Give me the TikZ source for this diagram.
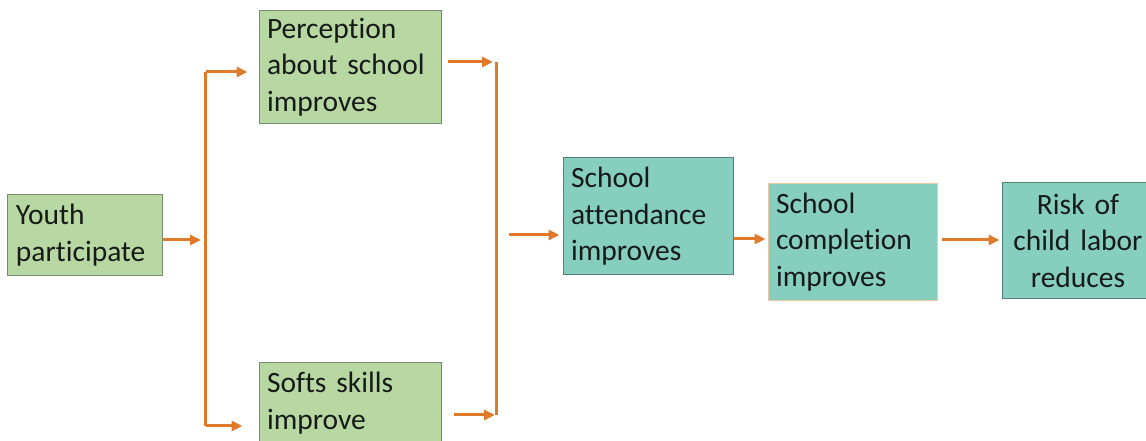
\documentclass[tikz,border=0pt]{standalone}
\usepackage{fontspec}
\setmainfont{Carlito}[Ligatures=NoCommon, WordSpace=0.7]
\usetikzlibrary{arrows.meta}
\definecolor{gfill}{RGB}{183,216,163}
\definecolor{gline}{RGB}{120,140,112}
\definecolor{tfill}{RGB}{134,206,190}
\definecolor{tline}{RGB}{82,128,118}
\definecolor{pline}{RGB}{238,200,162}
\definecolor{arr}{RGB}{224,122,42}
\definecolor{txt}{RGB}{22,26,24}
% box text: fixed interword spaces so broken lines are not stretched
\newcommand{\boxfont}{\fontsize{29.5bp}{36.5bp}\selectfont\fontdimen3\font=0pt\relax}
\begin{document}
\begin{tikzpicture}[x=1bp,y=-1bp,
  box/.style={draw, line width=1bp, inner xsep=8bp, inner ysep=0pt,
    font=\boxfont, text=txt},
  gbox/.style={box, fill=gfill, draw=gline},
  tbox/.style={box, fill=tfill, draw=tline},
  flow/.style={draw=arr, line width=3bp, -{Triangle[length=11bp,width=10bp]}},
  rail/.style={draw=arr, line width=3bp}]
\useasboundingbox (0,0) rectangle (1146,441);
\clip (0,0) rectangle (1146,441);

% boxes
\node[gbox, align=left, text width=138bp, minimum height=81bp] (youth) at (85,235)
  {Youth\\participate};
\node[gbox, align=left, text width=166bp, minimum height=113bp] (percep) at (350,67)
  {Perception\\about school\\improves};
\node[gbox, align=left, text width=166bp, minimum height=80bp] (softs) at (350,403)
  {Softs skills\\improve};
\node[tbox, align=left, text width=154bp, minimum height=117bp] (attend) at (648,216.5)
  {School\\attendance\\improves};
\node[tbox, draw=pline, align=left, text width=153bp, minimum height=117bp] (compl) at (852.5,242)
  {School\\completion\\improves};
\node[tbox, align=center, text width=136bp, minimum height=116bp] (risk) at (1078,240.5)
  {Risk of\\child labor\\reduces};

% junction points of the two rails
\coordinate (ltop) at (205.5,72);
\coordinate (lbot) at (205.5,426);
\coordinate (ljoin) at (201,240);
\coordinate (rtop) at (496,62);
\coordinate (rbot) at (496,415);
\coordinate (rmid) at (496,235);
\coordinate (acy) at (750,239);
\coordinate (cry) at (970,240);

% left rail: youth splits into two branches
\draw[rail] (ltop) -- (lbot);
\draw[flow] (youth.east |- ljoin) -- (ljoin);
\draw[flow, shorten >=11bp] (ltop) -- (ltop -| percep.west);
\draw[flow, shorten >=16bp] (lbot) -- (lbot -| softs.west);

% right rail: both branches merge
\draw[rail] (rtop) -- (rbot);
\draw[flow, shorten <=6bp, shorten >=3bp] (rtop -| percep.east) -- (rtop);
\draw[flow, shorten <=12bp, shorten >=1bp] (rbot -| softs.east) -- (rbot);
\draw[flow, shorten <=13bp, shorten >=3bp] (rmid) -- (rmid -| attend.west);

% main chain
\draw[flow, shorten >=2bp] (acy -| attend.east) -- (acy -| compl.west);
\draw[flow, shorten <=4bp, shorten >=2bp] (cry -| compl.east) -- (cry -| risk.west);
\end{tikzpicture}
\end{document}
